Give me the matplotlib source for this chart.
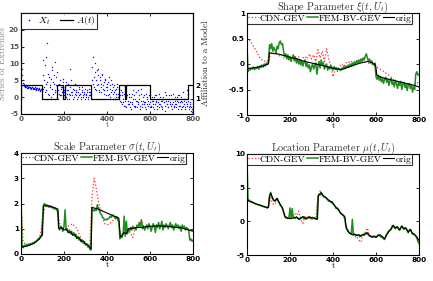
import numpy as np
import matplotlib
matplotlib.use("Agg")
import matplotlib.pyplot as plt
from matplotlib.ticker import FixedLocator, FixedFormatter

plt.rcParams['mathtext.fontset'] = 'cm'
plt.rcParams['axes.unicode_minus'] = False

# ---------------- data ----------------
# Series of extremes X_t (sampled at t = 0,4,8,...)
x_series = [
    14.5, 8.5, 5.0, 3.6, 3.3, 3.4, 3.0, 3.2, 2.9, 3.1, 2.8, 3.0, 2.7, 2.9, 2.6, 2.8, 2.5, 2.7, 2.4, 2.6, 2.3, 2.5, 2.2, 2.4, 2.1,
    2.5, 11.0, 5.0, 1.5, 4.0, 16.0, 7.0, 0.5, 21.0, 3.0, 5.5, 8.0, 1.0, 4.0, 10.5, 2.0, 6.0, 0.0, 3.5, 1.0, 5.0, 2.5, 0.5, 3.0, 4.5,
    1.5, 3.0, 0.0, 2.0, 1.0, 4.0, -0.5, 8.5, 1.5, 0.5, 2.5, 3.5, 0.0, 1.0, 2.0, -0.5, 1.5, 0.5, 3.0, 1.0, 0.0, 2.0, 0.5, 1.5, -0.5,
    1.0, 0.5, 2.0, 0.0, 1.5, 0.5, 1.0, -0.5, 5.0, 12.0, 3.0, 7.5, 2.0, 8.0, 4.0, 6.5, 1.5, 5.0, 3.0, 7.0, 2.5, 4.5, 1.0, 5.5, 3.0,
    2.0, 4.5, 1.0, 3.5, 0.0, 5.0, 2.0, 1.0, 3.5, -0.5, 2.5, 1.0, 4.0, 0.0, 1.5, -1.0, 2.0, -2.0, 0.5, -1.5, 1.0, -2.5, 0.0, 3.5, -1.0,
    -2.0, 1.0, -3.0, 0.0, -1.5, 2.0, -2.5, -0.5, -3.0, 1.5, -1.0, -2.0, 0.5, -3.5, -1.0, 2.5, -2.0, 0.0, -1.5, -3.0, 1.0, -2.0, -0.5, -2.5, 0.5,
    -1.5, -3.0, 0.0, -2.0, -1.0, -3.5, 0.5, -1.5, -2.5, -0.5, -3.0, 1.0, -2.0, -1.0, -3.5, 0.0, -1.5, -2.5, 1.5, -1.0, -2.0, -3.0, 0.5, -1.5, -2.5,
    -0.5, -2.0, 1.0, -3.0, -1.0, -2.0, 0.0, -3.5, -1.5, 0.5, -2.5, -1.0, -3.0, 1.5, -2.0, -1.0, -3.5, -0.5, -2.0, 1.0, -3.0, -1.5, -2.5, -4.0, -4.5,
]
# second interleaved sample (t = 2,6,10,...)
x_series_b = [
    11.0, 6.5, 4.2, 3.8, 2.9, 3.5, 2.8, 3.3, 2.6, 3.0, 2.9, 2.5, 3.1, 2.4, 2.7, 2.3, 2.9, 2.2, 2.6, 2.0, 2.4, 2.7, 1.9, 2.3, 1.8,
    6.5, 3.0, 9.5, 2.0, 12.0, 4.5, 1.0, 6.0, 3.5, 0.0, 9.0, 2.5, 4.5, 6.5, 1.5, 3.5, 7.5, -0.5, 2.0, 4.0, 0.5, 3.0, 1.5, 5.5, 2.0,
    0.5, 2.5, 4.5, -0.5, 2.0, 1.0, 3.0, 0.5, 5.0, 1.5, -0.5, 2.0, 4.0, 0.5, 1.5, 3.5, 0.0, 2.5, 1.0, -0.5, 1.5, 3.0, 0.0, 1.0, 2.5,
    0.0, 1.5, -0.5, 2.5, 0.5, 1.5, 0.0, 9.0, 4.0, 6.0, 2.5, 10.0, 5.0, 3.5, 8.5, 2.0, 6.0, 4.0, 1.5, 6.5, 3.5, 2.0, 5.0, 0.5, 4.0,
    3.0, 0.5, 6.0, 2.5, 1.5, 4.0, -0.5, 3.0, 1.5, 2.0, 0.0, 3.0, 1.0, -0.5, 2.5, 0.5, -1.5, 1.5, -0.5, -2.5, 1.0, -1.0, -3.0, 0.5, -2.0,
    0.0, -1.5, -3.5, 1.0, -2.0, -0.5, 0.5, -2.5, -1.0, -3.0, 2.0, -1.5, -0.5, -2.5, 1.0, -3.0, -1.0, 0.5, -2.0, -1.5, -3.5, 0.0, -1.0, -2.0, -3.0,
    0.5, -2.5, -1.0, -3.0, 0.0, -2.0, -1.0, 0.5, -3.5, -1.5, -2.0, 0.0, -2.5, -1.0, -3.0, -0.5, -1.5, -4.0, 0.5, -2.0, -1.0, -3.0, -0.5, -2.0, 0.5,
    -3.5, -1.5, -2.5, 0.0, -2.0, -3.0, -1.0, 0.5, -2.5, -1.5, -3.5, 0.0, -1.5, -2.5, -0.5, -3.0, -1.5, 2.0, -2.5, -1.0, -3.5, -2.0, -3.0, -3.5, -4.0,
]
t_series = np.linspace(0, 796, len(x_series))
t_series_b = np.linspace(2, 798, len(x_series_b))

# Affiliation to a model A(t): change points and levels
a_edges = [0, 2, 98, 167, 195, 206, 326, 457, 482, 490, 598, 777, 800]
a_levels = [1, 2, 1, 2, 1, 2, 1, 2, 1, 2, 1, 2]

# Shape parameter
shape_orig_t = [0, 20, 40, 60, 80, 100, 104, 120, 140, 160, 180, 200, 220, 240, 260, 280, 300, 320, 340, 360, 380,
                400, 420, 440, 460, 480, 500, 520, 540, 560, 580, 598, 604, 620, 640, 660, 680, 700, 720, 740, 760, 780, 800]
shape_orig = [-0.09, -0.08, -0.07, -0.05, -0.03, 0.0, 0.22, 0.21, 0.2, 0.18, 0.16, 0.13, 0.11, 0.09, 0.06, 0.04, 0.02,
              0.0, -0.02, -0.04, -0.06, -0.08, -0.1, -0.11, -0.08, -0.05, -0.02, 0.01, 0.03, 0.05, 0.03, -0.02, -0.22,
              -0.25, -0.28, -0.3, -0.32, -0.34, -0.36, -0.38, -0.4, -0.42, -0.45]
shape_fem = [0.35, -0.15, -0.1, -0.12, -0.08, -0.1, -0.06, -0.11, -0.07, -0.09, -0.05, -0.1, -0.04, -0.07, -0.02, -0.06,
             0.0, -0.04, 0.02, 0.0, 0.05, 0.38, 0.3, 0.4, 0.25, 0.33, 0.28, 0.22, 0.35, 0.3, 0.42, 0.45, 0.38, 0.4, 0.25,
             0.15, 0.2, 0.1, 0.18, 0.08, 0.15, 0.05, 0.12, 0.18, 0.06, 0.14, 0.02, 0.1, 0.0, 0.08, -0.02, 0.06, -0.04,
             0.04, 0.08, -0.05, 0.02, -0.08, -0.02, -0.15, -0.06, 0.0, -0.1, -0.03, 0.02, -0.2, -0.05, 0.05, -0.08, 0.08,
             -0.02, 0.03, -0.1, -0.04, 0.0, -0.12, -0.06, -0.1, -0.02, -0.08, -0.12, -0.05, -0.1, -0.07, -0.12, -0.08,
             -0.1, -0.13, -0.08, -0.1, -0.05, -0.09, -0.04, -0.07, -0.02, -0.06, 0.0, -0.04, 0.02, -0.03, 0.04, 0.0, 0.06,
             0.02, 0.08, 0.03, 0.1, 0.05, 0.12, 0.08, 0.15, 0.2, 0.12, 0.05, 0.1, 0.02, 0.06, 0.0, -0.02, 0.02, -0.25,
             -0.3, -0.22, -0.32, -0.25, -0.35, -0.28, -0.38, -0.3, -0.26, -0.36, -0.3, -0.42, -0.33, -0.28, -0.4, -0.35,
             -0.45, -0.32, -0.38, -0.48, -0.36, -0.42, -0.34, -0.5, -0.4, -0.36, -0.46, -0.4, -0.52, -0.42, -0.38, -0.48,
             -0.42, -0.55, -0.45, -0.5, -0.2, -0.15, -0.22, -0.2]
shape_cdn = [0.52, 0.48, 0.42, 0.35, 0.28, 0.2, 0.12, 0.08, 0.05, 0.08, 0.05, 0.2, 0.22, 0.18, 0.2, 0.16, 0.18, 0.12,
             0.15, 0.1, 0.13, 0.12, 0.15, 0.1, 0.14, 0.08, 0.12, 0.15, 0.1, 0.2, 0.1, 0.18, 0.05, 0.28, 0.12, 0.25, 0.05,
             0.3, 0.1, -0.05, -0.25, -0.1, -0.15, -0.05, 0.0, -0.05, 0.02, 0.05, 0.02, 0.06, 0.04, 0.07, 0.05, 0.08, 0.06,
             0.05, 0.02, 0.01, 0.0, -0.03, -0.05, -0.08, -0.1, -0.13, -0.16, -0.19, -0.22, -0.26, -0.3, -0.34, -0.35,
             -0.38, -0.37, -0.4, -0.38, -0.42, -0.4, -0.43, -0.4, -0.35, -0.4]

# Scale parameter
scale_orig_t = [0, 6, 20, 40, 60, 80, 95, 100, 104, 120, 140, 160, 172, 176, 190, 200, 210, 220, 230, 240, 250, 260,
                270, 280, 290, 300, 310, 320, 326, 330, 340, 360, 380, 400, 420, 440, 455, 462, 468, 480, 490, 500, 520,
                540, 560, 580, 600, 620, 640, 660, 680, 700, 720, 740, 760, 780, 800]
scale_orig = [0.3, 0.28, 0.3, 0.35, 0.42, 0.55, 0.7, 0.75, 1.9, 1.92, 1.88, 1.82, 1.78, 1.0, 1.05, 0.95, 0.98, 0.85, 0.88,
              0.75, 0.78, 0.62, 0.65, 0.5, 0.52, 0.4, 0.38, 0.25, 0.2, 1.85, 1.82, 1.78, 1.7, 1.62, 1.55, 1.48, 1.42,
              0.68, 0.72, 0.85, 0.8, 1.0, 1.02, 1.05, 1.05, 1.08, 1.1, 1.1, 1.12, 1.1, 1.1, 1.08, 1.05, 1.05, 1.0, 0.95, 0.9]
scale_fem = [2.4, 0.3, 0.25, 0.35, 0.3, 0.38, 0.32, 0.4, 0.35, 0.42, 0.38, 0.45, 0.42, 0.5, 0.48, 0.55, 0.6, 0.58, 0.7,
             0.72, 1.3, 1.95, 2.0, 1.9, 1.95, 1.88, 1.92, 1.85, 1.9, 1.82, 1.85, 1.78, 1.82, 1.75, 1.7, 1.05, 0.95, 1.1,
             1.0, 0.9, 1.1, 1.75, 0.95, 1.0, 0.85, 0.95, 0.8, 0.9, 0.75, 0.85, 0.7, 0.78, 0.62, 0.7, 0.55, 0.6, 0.48,
             0.55, 0.42, 0.48, 0.35, 0.4, 0.28, 0.32, 0.2, 0.15, 1.8, 1.75, 1.7, 1.78, 1.72, 1.95, 1.8, 1.7, 1.6, 1.55,
             1.45, 1.4, 1.35, 1.38, 1.35, 1.4, 1.42, 1.5, 1.45, 1.55, 1.5, 1.45, 1.4, 1.48, 1.35, 1.3, 0.6, 0.7, 0.65,
             0.8, 1.5, 0.7, 1.3, 0.8, 1.0, 0.9, 1.05, 0.95, 1.1, 1.0, 1.05, 0.95, 1.15, 1.05, 1.25, 1.1, 1.35, 1.0, 1.1,
             0.95, 1.05, 1.15, 1.0, 1.2, 1.1, 0.9, 1.05, 1.2, 1.1, 0.85, 1.15, 1.05, 1.25, 1.0, 1.1, 1.3, 0.95, 1.15,
             1.05, 1.2, 1.1, 1.0, 1.15, 1.25, 1.05, 1.15, 0.95, 1.1, 1.2, 1.05, 1.15, 1.0, 1.1, 0.9, 1.15, 1.05, 1.1,
             0.95, 1.05, 1.0, 0.95, 0.55, 0.6, 0.5, 0.55]
scale_cdn = [2.0, 0.5, 0.4, 0.35, 0.38, 0.42, 0.45, 0.5, 0.6, 0.75, 1.4, 1.8, 1.9, 1.85, 1.88, 1.8, 1.78, 1.7, 1.15,
             1.0, 1.05, 1.1, 1.1, 1.15, 1.2, 1.1, 1.0, 0.8, 0.6, 0.5, 0.4, 0.35, 0.3, 2.2, 3.0, 2.6, 2.1, 1.7, 1.4, 1.2,
             1.15, 1.2, 1.25, 1.35, 1.4, 1.45, 0.9, 0.8, 0.85, 0.9, 0.95, 0.8, 0.65, 1.0, 1.05, 1.1, 1.35, 1.1, 1.05,
             1.1, 1.1, 1.05, 1.1, 1.15, 1.1, 1.12, 1.1, 1.15, 1.1, 1.12, 1.1, 1.08, 1.1, 1.05, 1.08, 1.05, 1.02, 1.0,
             0.98, 0.95, 0.92]

# Location parameter
loc_orig_t = [0, 5, 20, 40, 60, 80, 95, 100, 104, 110, 115, 122, 130, 140, 150, 158, 165, 172, 178, 185, 200, 215, 230,
              245, 260, 275, 290, 305, 320, 328, 332, 340, 345, 355, 365, 375, 385, 395, 405, 415, 425, 435, 445, 455,
              462, 470, 480, 490, 500, 510, 520, 530, 540, 550, 560, 570, 580, 590, 600, 610, 620, 630, 640, 650, 660,
              670, 680, 690, 700, 710, 720, 730, 740, 750, 760, 770, 780, 790, 800]
loc_orig = [3.3, 3.1, 2.9, 2.6, 2.4, 2.2, 2.0, 2.1, 3.6, 4.2, 3.8, 3.2, 3.0, 3.4, 2.8, 2.3, 2.0, 1.2, 0.6, 0.5, 0.4, 0.5,
            0.6, 0.3, 0.7, 0.4, 0.6, 0.5, 0.4, 0.3, 3.8, 4.1, 4.3, 3.8, 3.6, 3.3, 3.0, 2.9, 2.5, 2.0, 1.8, 1.2, 1.0, 0.7,
            -1.0, -1.5, -1.8, -2.0, -1.9, -2.1, -2.0, -2.2, -2.0, -1.9, -1.7, -2.1, -2.3, -2.2, -2.4, -2.1, -2.0, -2.3,
            -2.6, -2.0, -1.5, -1.2, -0.6, -1.0, -0.8, -1.3, -0.7, -1.1, -1.0, -1.6, -1.2, -1.8, -2.0, -2.3, -2.8]
loc_fem = [9.0, 3.0, 3.1, 2.9, 2.95, 2.8, 2.75, 2.7, 2.6, 2.55, 2.5, 2.4, 2.45, 2.3, 2.25, 2.2, 2.15, 2.1, 2.05, 2.0,
           2.2, 3.8, 4.3, 3.7, 3.4, 3.1, 3.0, 3.3, 3.4, 3.0, 2.7, 2.4, 2.2, 1.9, 1.4, 0.8, 0.5, 0.6, 0.4, 0.5, 2.0, 0.4,
           1.9, 0.5, 0.6, 0.4, 0.7, 0.5, 0.3, 0.4, 0.6, 0.5, 0.7, 0.4, 0.5, 0.3, 0.6, 0.5, 0.7, 0.4, 0.5, 0.6, 0.4, 0.5,
           0.3, 0.4, 3.7, 4.0, 3.9, 4.2, 3.9, 3.7, 3.6, 3.5, 3.4, 3.2, 3.0, 3.1, 2.8, 2.9, 2.6, 2.4, 2.2, 1.9, 2.0, 1.7,
           1.5, 1.2, 1.1, 0.9, 0.8, 0.4, -0.8, -1.2, -1.4, -1.7, -1.8, -1.9, 0.3, -2.0, -1.9, -2.1, -2.0, -2.1, -2.0,
           -2.3, -2.1, -2.0, -1.9, -2.1, -1.8, -1.7, -1.9, -2.0, -2.2, -2.3, -2.2, -2.4, -2.3, -2.2, -2.4, -2.2, -2.0,
           -2.1, -2.2, -2.4, -2.3, -2.6, -2.7, -2.2, -1.9, -1.6, -1.4, -1.3, -1.1, -0.7, -0.6, -0.9, -1.1, -0.8, -0.9,
           -1.2, -1.3, -0.9, -0.7, -1.0, -1.2, -0.9, -1.1, -1.4, -1.7, -1.3, -1.2, -1.6, -1.9, -1.8, -2.0, -2.2, -2.5,
           -3.0, -3.3]
loc_cdn = [3.6, 3.2, 2.95, 2.8, 2.6, 2.5, 2.4, 2.3, 2.2, 2.05, 2.3, 3.5, 2.6, 2.5, 3.2, 2.6, 2.2, 1.5, 0.7, 0.5, 0.8,
           0.6, 1.2, 0.9, 1.5, 0.2, -0.3, 0.8, 0.4, 0.9, 0.3, 0.6, 0.4, 3.5, 4.5, 4.0, 3.6, 3.4, 3.0, 2.8, 2.6, 2.2,
           1.9, 1.5, 1.1, 0.8, -0.6, -1.3, -1.9, -1.7, -2.4, -2.2, -2.8, -3.1, -1.9, -1.6, -1.0, -2.2, -2.3, -2.2, -2.3,
           -2.1, -2.2, -2.4, -2.6, -2.0, -1.5, -1.1, -0.7, -1.0, -0.9, -1.2, -0.8, -1.1, -1.1, -1.6, -1.3, -1.8, -2.0,
           -2.4, -2.9]

x_ticks = [0, 200, 400, 600, 800]

# ---------------- figure ----------------
W, H = 433, 281
fig = plt.figure(figsize=(W / 100, H / 100), dpi=100)

def px_axes(l, t, r, b):
    return fig.add_axes([l / W, 1 - b / H, (r - l) / W, (b - t) / H])

tick_font = dict(family='DejaVu Sans', weight='bold', size=5.2)
serif = 'cmr10'

def style(ax, yt, ylab, ylim, tick_color='black'):
    ax.set_xlim(0, 800)
    ax.set_ylim(*ylim)
    ax.xaxis.set_major_locator(FixedLocator(x_ticks))
    ax.xaxis.set_major_formatter(FixedFormatter([str(v) for v in x_ticks]))
    ax.yaxis.set_major_locator(FixedLocator(yt))
    ax.yaxis.set_major_formatter(FixedFormatter(ylab))
    ax.tick_params(direction='in', length=2, width=0.6, top=True, right=True, pad=1.5,
                   labelcolor=tick_color)
    for lab in ax.get_xticklabels() + ax.get_yticklabels():
        lab.set_fontfamily(tick_font['family'])
        lab.set_fontweight(tick_font['weight'])
        lab.set_fontsize(tick_font['size'])
    for s in ax.spines.values():
        s.set_linewidth(0.8)
    ax.set_xlabel('t', fontfamily=serif, fontsize=6, labelpad=-1, color=tick_color)

green = '#1e8c1e'
red = '#ff2a2a'

# Panel 1: series of extremes
ax1 = px_axes(21, 13, 193, 114)
ax1.plot(t_series, x_series, '.', color='#1010ff', ms=2.0, mew=0, label=r'$X_t$')
ax1.plot(t_series_b, x_series_b, '.', color='#1010ff', ms=2.0, mew=0)
style(ax1, [-5, 0, 5, 10, 15, 20], ['-5', '0', '5', '10', '15', '20'], (-5, 25), tick_color='#555555')
ax1.set_ylabel('Series of Extremes', fontfamily=serif, fontsize=6.5, color='#888888', labelpad=1)
ax1b = ax1.twinx()
a_t = a_edges
a_v = a_levels + [a_levels[-1]]
ax1b.step(a_t, a_v, where='post', color='black', lw=0.9, label=r'$A(t)$')
ax1b.set_ylim(-0.18, 7.51)
ax1b.set_xlim(0, 800)
ax1b.yaxis.set_major_locator(FixedLocator([1, 2]))
ax1b.yaxis.set_major_formatter(FixedFormatter(['1', '2']))
ax1b.tick_params(direction='in', length=2, width=0.6, pad=1.5)
for lab in ax1b.get_yticklabels():
    lab.set_fontfamily(tick_font['family'])
    lab.set_fontweight('bold')
    lab.set_fontsize(tick_font['size'])
ax1b.set_ylabel('Affiliation to a Model', fontfamily=serif, fontsize=6.5, color='#222222', labelpad=1)
h1, l1 = ax1.get_legend_handles_labels()
h2, l2 = ax1b.get_legend_handles_labels()
leg = ax1b.legend(h1 + h2, l1 + l2, loc='upper left', ncol=2, fontsize=7, frameon=True, fancybox=False,
                  borderpad=0.15, handlelength=1.3, handletextpad=0.3, columnspacing=1.0,
                  borderaxespad=0.0, markerscale=1.2)
leg.get_frame().set_edgecolor('black')
leg.get_frame().set_linewidth(0.8)

def param_panel(rect, title, t_o, y_o, y_f, y_c, yt, ylab, ylim):
    ax = px_axes(*rect)
    t_f = np.linspace(0, 800, len(y_f))
    t_c = np.linspace(0, 800, len(y_c))
    ax.plot(t_c, y_c, ':', color=red, lw=0.9, label='CDN-GEV')
    ax.plot(t_f, y_f, '-', color=green, lw=1.1, label='FEM-BV-GEV')
    ax.plot(t_o, y_o, '-', color='black', lw=0.8, label='orig')
    style(ax, yt, ylab, ylim)
    ax.set_title(title, fontfamily=serif, fontsize=7.3, pad=2.0, color='#333333')
    lg = ax.legend(loc='upper left', ncol=3, frameon=True, fancybox=False,
                   borderpad=0.1, handlelength=1.1, handletextpad=0.15, columnspacing=0.15,
                   borderaxespad=0.0, prop=dict(family=serif, size=6.9))
    lg.get_frame().set_edgecolor('black')
    lg.get_frame().set_linewidth(0.8)
    return ax

param_panel((247, 13, 419, 115), r'Shape Parameter $\xi(t,U_t)$', shape_orig_t, shape_orig, shape_fem, shape_cdn,
            [-1, -0.5, 0, 0.5, 1], ['-1', '-0.5', '0', '0.5', '1'], (-1, 1))
param_panel((21, 153, 193, 254), r'Scale Parameter $\sigma(t,U_t)$', scale_orig_t, scale_orig, scale_fem, scale_cdn,
            [0, 1, 2, 3, 4], ['0', '1', '2', '3', '4'], (0, 4))
param_panel((247, 154, 419, 255), r'Location Parameter $\mu(t,U_t)$', loc_orig_t, loc_orig, loc_fem, loc_cdn,
            [-5, 0, 5, 10], ['-5', '0', '5', '10'], (-5, 10))

fig.savefig('out.png', dpi=100)
